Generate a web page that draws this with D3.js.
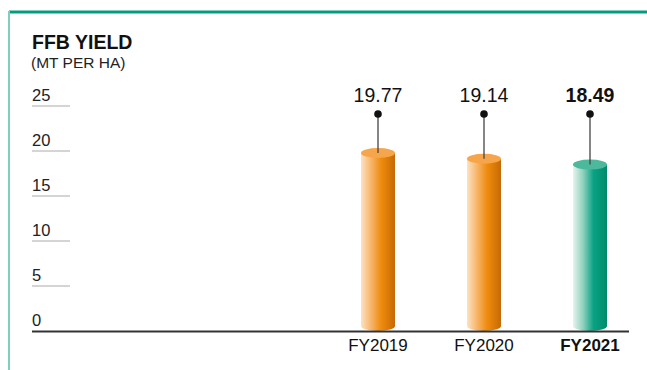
<!DOCTYPE html>
<html>
<head>
<meta charset="utf-8">
<script src="https://cdn.jsdelivr.net/npm/d3@7"></script>
<style>
  body { margin: 0; background: #fff; }
  svg { display: block; font-family: "Liberation Sans", Arial, sans-serif; }
</style>
</head>
<body>
<div id="chart"></div>
<script>
// chart data
const years = ["FY2019", "FY2020", "FY2021"];
const yieldValues = [19.77, 19.14, 18.49];
const yTicks = [0, 5, 10, 15, 20, 25];

const width = 647;
const height = 370;

const svg = d3.select("#chart")
  .append("svg")
  .attr("width", width)
  .attr("height", height);

const defs = svg.append("defs");

// side gradients for the cylinders
const makeGrad = (id, stops) => {
  const g = defs.append("linearGradient").attr("id", id)
    .attr("x1", "0%").attr("x2", "100%").attr("y1", "0%").attr("y2", "0%");
  stops.forEach(s => g.append("stop").attr("offset", s[0]).attr("stop-color", s[1]));
};
makeGrad("orangeGrad", [["0%", "#fde2c2"], ["30%", "#f7b468"], ["60%", "#ef8a0c"], ["100%", "#c56a05"]]);
makeGrad("greenGrad", [["0%", "#e6f4ef"], ["30%", "#8dd0bb"], ["60%", "#0aa283"], ["100%", "#008a6b"]]);

// frame
svg.append("line")
  .attr("x1", 9).attr("x2", width).attr("y1", 12).attr("y2", 12)
  .attr("stroke", "#009e80").attr("stroke-width", 3);
svg.append("line")
  .attr("x1", 9).attr("x2", 9).attr("y1", 11).attr("y2", height)
  .attr("stroke", "#7fcfbd").attr("stroke-width", 2);

// title
svg.append("text").attr("x", 32).attr("y", 49)
  .attr("font-size", 19.5).attr("font-weight", "bold").attr("fill", "#111")
  .text("FFB YIELD");
svg.append("text").attr("x", 31).attr("y", 68)
  .attr("font-size", 15.5).attr("fill", "#222")
  .text("(MT PER HA)");

// scales
const yScale = d3.scaleLinear().domain([0, 25]).range([331, 106]);
const xScale = d3.scaleBand()
  .domain(years)
  .range([325, 643])
  .paddingInner(0.68)
  .paddingOuter(0.34);

// y ticks: label sitting above a short grey rule
const tick = svg.append("g").selectAll("g")
  .data(yTicks.filter(d => d > 0))
  .enter().append("g");
tick.append("line")
  .attr("x1", 32).attr("x2", 70)
  .attr("y1", d => yScale(d)).attr("y2", d => yScale(d))
  .attr("stroke", "#aaa").attr("stroke-width", 1);
tick.append("text")
  .attr("x", 32).attr("y", d => yScale(d) - 5)
  .attr("font-size", 16.5).attr("fill", "#222")
  .text(d => d);

svg.append("text")
  .attr("x", 32).attr("y", yScale(0) - 5)
  .attr("font-size", 16.5).attr("fill", "#222")
  .text(0);

// cylinders
const bw = 34;
const ry = 5;
const bars = svg.append("g").selectAll("g")
  .data(years)
  .enter().append("g");

bars.append("path")
  .attr("d", (d, i) => {
    const x0 = xScale(d) + xScale.bandwidth() / 2 - bw / 2;
    const top = yScale(yieldValues[i]);
    const bot = yScale(0) - ry;
    return `M${x0},${top} L${x0},${bot} A${bw / 2},${ry} 0 0 0 ${x0 + bw},${bot} L${x0 + bw},${top} Z`;
  })
  .attr("fill", (d, i) => i === 2 ? "url(#greenGrad)" : "url(#orangeGrad)");

bars.append("ellipse")
  .attr("cx", d => xScale(d) + xScale.bandwidth() / 2)
  .attr("cy", (d, i) => yScale(yieldValues[i]))
  .attr("rx", bw / 2).attr("ry", ry)
  .attr("fill", (d, i) => i === 2 ? "#4cb99c" : "#f6a54a");

// pins
bars.append("line")
  .attr("x1", d => xScale(d) + xScale.bandwidth() / 2)
  .attr("x2", d => xScale(d) + xScale.bandwidth() / 2)
  .attr("y1", 114)
  .attr("y2", (d, i) => yScale(yieldValues[i]))
  .attr("stroke", "#444").attr("stroke-width", 1.3);
bars.append("circle")
  .attr("cx", d => xScale(d) + xScale.bandwidth() / 2)
  .attr("cy", 114).attr("r", 3.8)
  .attr("fill", "#111");

bars.append("text")
  .attr("x", d => xScale(d) + xScale.bandwidth() / 2)
  .attr("y", 102)
  .attr("text-anchor", "middle")
  .attr("font-size", 19.5)
  .attr("font-weight", (d, i) => i === 2 ? "bold" : "normal")
  .attr("fill", "#111")
  .text((d, i) => yieldValues[i].toFixed(2));

// baseline and x labels
svg.append("line")
  .attr("x1", 32).attr("x2", 629)
  .attr("y1", yScale(0) + 0.5).attr("y2", yScale(0) + 0.5)
  .attr("stroke", "#333").attr("stroke-width", 1.8);

svg.append("g")
  .attr("transform", `translate(0,${yScale(0)})`)
  .call(d3.axisBottom(xScale).tickSize(0).tickPadding(8))
  .call(g => g.select(".domain").remove())
  .selectAll("text")
  .attr("font-size", 17)
  .attr("font-family", "Liberation Sans, Arial, sans-serif")
  .attr("fill", "#111")
  .attr("font-weight", (d, i) => i === 2 ? "bold" : "normal");
</script>
</body>
</html>
